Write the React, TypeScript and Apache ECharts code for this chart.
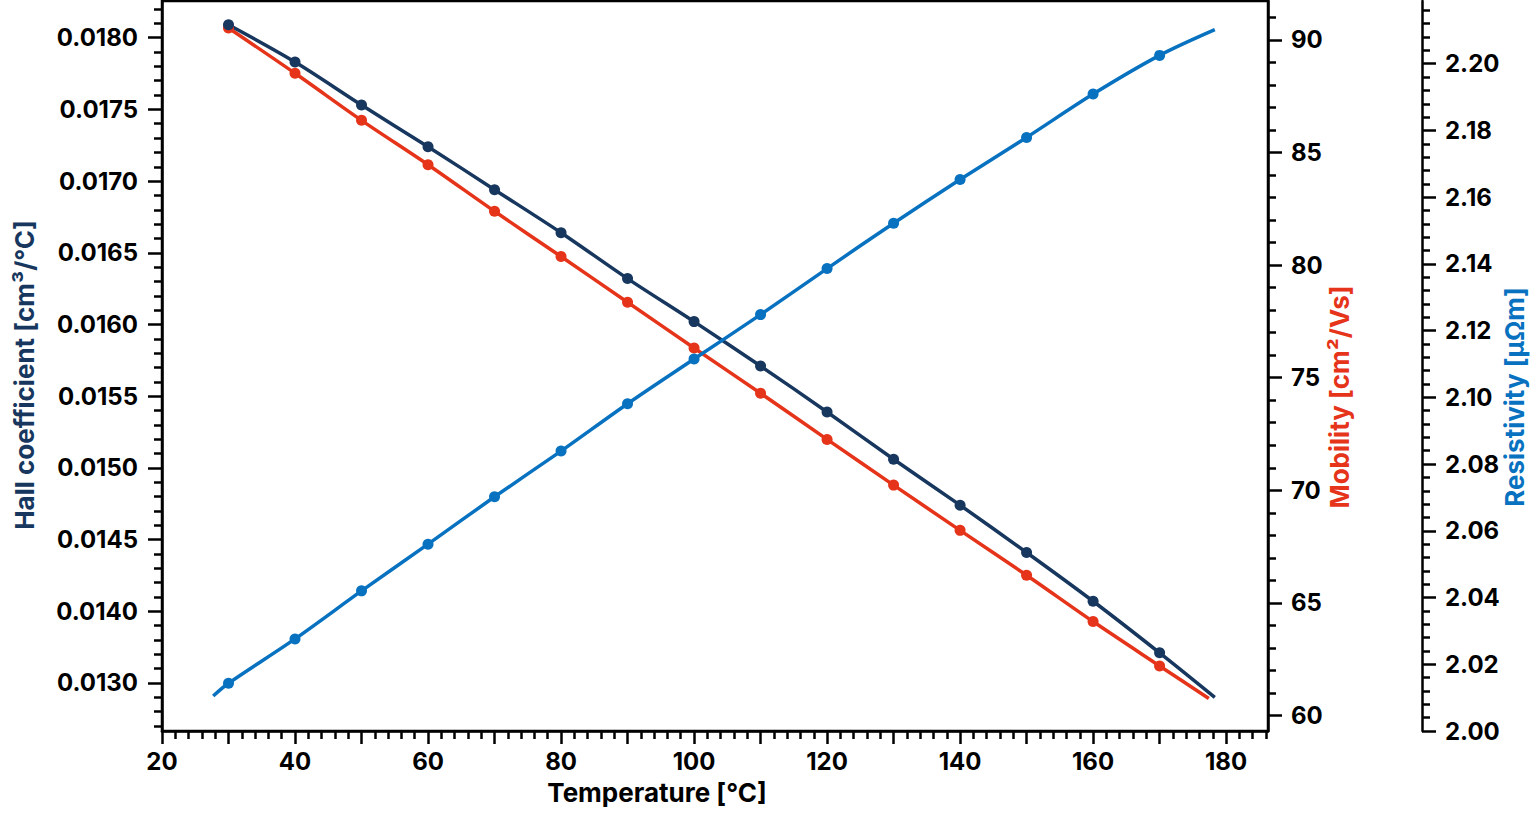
import { useEffect, useRef } from "react"
import * as echarts from "echarts"

// measured points
const TEMPERATURES = [30, 40, 50, 60, 70, 80, 90, 100, 110, 120, 130, 140, 150, 160, 170]
const HALL = [0.01809, 0.01783, 0.01753, 0.01724, 0.01694, 0.01664, 0.01632, 0.01602, 0.01571, 0.01539, 0.01506, 0.01474, 0.01441, 0.01407, 0.01371]
const MOBILITY = [90.53, 88.52, 86.43, 84.46, 82.39, 80.38, 78.35, 76.32, 74.31, 72.26, 70.23, 68.22, 66.23, 64.17, 62.2]
const RESISTIVITY = [2.0143, 2.0276, 2.042, 2.056, 2.0702, 2.0839, 2.0981, 2.1115, 2.1248, 2.1386, 2.1522, 2.1653, 2.1779, 2.1909, 2.2025]

// the fitted curves run a little past the measured points
const HALL_FIT_END = [178.3, 0.0134]
const MOBILITY_FIT_END = [177.4, 60.75]
const RESISTIVITY_FIT_START = [27.7, 2.0105]
const RESISTIVITY_FIT_END = [178.3, 2.2102]

// axis extents and ticks
const TEMP_RANGE = [20, 186.3]
const HALL_RANGE = [0.013165, 0.018256]
const MOBILITY_RANGE = [59.31, 91.73]
const RESISTIVITY_RANGE = [2.0, 2.2188]

const TEMP_TICKS = [20, 30, 40, 50, 60, 70, 80, 90, 100, 110, 120, 130, 140, 150, 160, 170, 180]
const TEMP_LABELS = [20, 40, 60, 80, 100, 120, 140, 160, 180]
const HALL_TICKS = [0.0135, 0.014, 0.0145, 0.015, 0.0155, 0.016, 0.0165, 0.017, 0.0175, 0.018]
const HALL_TICK_LABELS = ["0.0130", "0.0140", "0.0145", "0.0150", "0.0155", "0.0160", "0.0165", "0.0170", "0.0175", "0.0180"]
const MOBILITY_TICKS = [60, 65, 70, 75, 80, 85, 90]
const RESISTIVITY_TICKS = [2.0, 2.02, 2.04, 2.06, 2.08, 2.1, 2.12, 2.14, 2.16, 2.18, 2.2]

const NAVY = "#17375e"
const RED = "#e5341a"
const BLUE = "#0872c0"
const FONT = "Inter, 'Noto Sans', sans-serif"

const lineStyle = { color: "#000", width: 2.5 }
const labelText = { color: "#000", fontFamily: FONT, fontWeight: 700, fontSize: 24 }
const titleText = (color: string, padding: number[]) => ({
  color,
  fontFamily: FONT,
  fontWeight: 700,
  fontSize: 26,
  padding,
})

const curve = (values: number[], start?: number[], end?: number[]) => {
  const data: any[] = TEMPERATURES.map((t, i) => [t, values[i]])
  if (start) data.unshift({ value: start, symbol: "none" })
  if (end) data.push({ value: end, symbol: "none" })
  return data
}

const valueAxis = (range: number[], interval: number, ticks: number[], tickLength: number) => ({
  type: "value" as const,
  min: range[0],
  max: range[1],
  splitNumber: Math.round((range[1] - range[0]) / interval),
  minInterval: interval,
  maxInterval: interval,
  nameLocation: "middle" as const,
  nameMoveOverlap: false,
  axisLine: { show: true, onZero: false, lineStyle },
  axisTick: { show: true, inside: false, length: tickLength, lineStyle, customValues: ticks },
  minorTick: { show: true, splitNumber: 5, length: 8, lineStyle },
  splitLine: { show: false },
  minorSplitLine: { show: false },
})

export default function App() {
  const chartRef = useRef<HTMLDivElement>(null)

  useEffect(() => {
    if (!chartRef.current) return
    const chart = echarts.init(chartRef.current, null, { renderer: "svg" })

    const option: any = {
      animation: false,
      backgroundColor: "#fff",
      grid: {
        left: 162,
        right: 268,
        top: 1,
        bottom: 82,
        show: true,
        borderColor: "#000",
        borderWidth: 2.5,
        containLabel: false,
        outerBoundsMode: "none",
      },
      xAxis: {
        ...valueAxis(TEMP_RANGE, 10, TEMP_TICKS, 13),
        axisLabel: { ...labelText, customValues: TEMP_LABELS, margin: 18 },
        name: "Temperature [°C]",
        nameGap: 48,
        nameTextStyle: { ...titleText("#000", [0, 116, 0, 0]) },
      },
      yAxis: [
        {
          ...valueAxis(HALL_RANGE, 0.0005, HALL_TICKS, 14),
          position: "left",
          axisLabel: {
            ...labelText,
            customValues: HALL_TICKS,
            margin: 24,
            formatter: (v: number) => {
              const i = HALL_TICKS.findIndex((t) => Math.abs(t - v) < 1e-7)
              return i >= 0 ? HALL_TICK_LABELS[i] : ""
            },
          },
          name: "Hall coefficient [cm³/°C]",
          nameRotate: 90,
          nameGap: 125,
          nameTextStyle: titleText(NAVY, [0, 18, 0, 0]),
        },
        {
          ...valueAxis(MOBILITY_RANGE, 5, MOBILITY_TICKS, 14),
          position: "right",
          axisLabel: { ...labelText, customValues: MOBILITY_TICKS, margin: 23 },
          name: "Mobility [cm²/Vs]",
          nameRotate: 90,
          nameGap: 58,
          nameTextStyle: titleText(RED, [0, 62, 0, 0]),
        },
        {
          ...valueAxis(RESISTIVITY_RANGE, 0.02, RESISTIVITY_TICKS, 14),
          position: "right",
          offset: 154,
          axisLabel: {
            ...labelText,
            customValues: RESISTIVITY_TICKS,
            margin: 23,
            formatter: (v: number) => v.toFixed(2),
          },
          name: "Resistivity [μΩm]",
          nameRotate: 90,
          nameGap: 79,
          nameTextStyle: titleText(BLUE, [0, 62, 0, 0]),
        },
      ],
      series: [
        {
          name: "Mobility",
          type: "line",
          yAxisIndex: 1,
          data: curve(MOBILITY, undefined, MOBILITY_FIT_END),
          smooth: 0.3,
          symbol: "circle",
          symbolSize: 11,
          lineStyle: { color: RED, width: 3.5 },
          itemStyle: { color: RED },
        },
        {
          name: "Hall coefficient",
          type: "line",
          yAxisIndex: 0,
          data: curve(HALL, undefined, HALL_FIT_END),
          smooth: 0.3,
          symbol: "circle",
          symbolSize: 11,
          lineStyle: { color: NAVY, width: 3.5 },
          itemStyle: { color: NAVY },
        },
        {
          name: "Resistivity",
          type: "line",
          yAxisIndex: 2,
          data: curve(RESISTIVITY, RESISTIVITY_FIT_START, RESISTIVITY_FIT_END),
          smooth: 0.3,
          symbol: "circle",
          symbolSize: 11,
          lineStyle: { color: BLUE, width: 3.5 },
          itemStyle: { color: BLUE },
        },
      ],
    }

    chart.setOption(option)

    const handleResize = () => chart.resize()
    window.addEventListener("resize", handleResize)

    return () => {
      window.removeEventListener("resize", handleResize)
      chart.dispose()
    }
  }, [])

  return (
    <div
      ref={chartRef}
      style={{ position: "fixed", left: 0, top: 0, width: 1536, height: 813, background: "#fff" }}
    />
  )
}
